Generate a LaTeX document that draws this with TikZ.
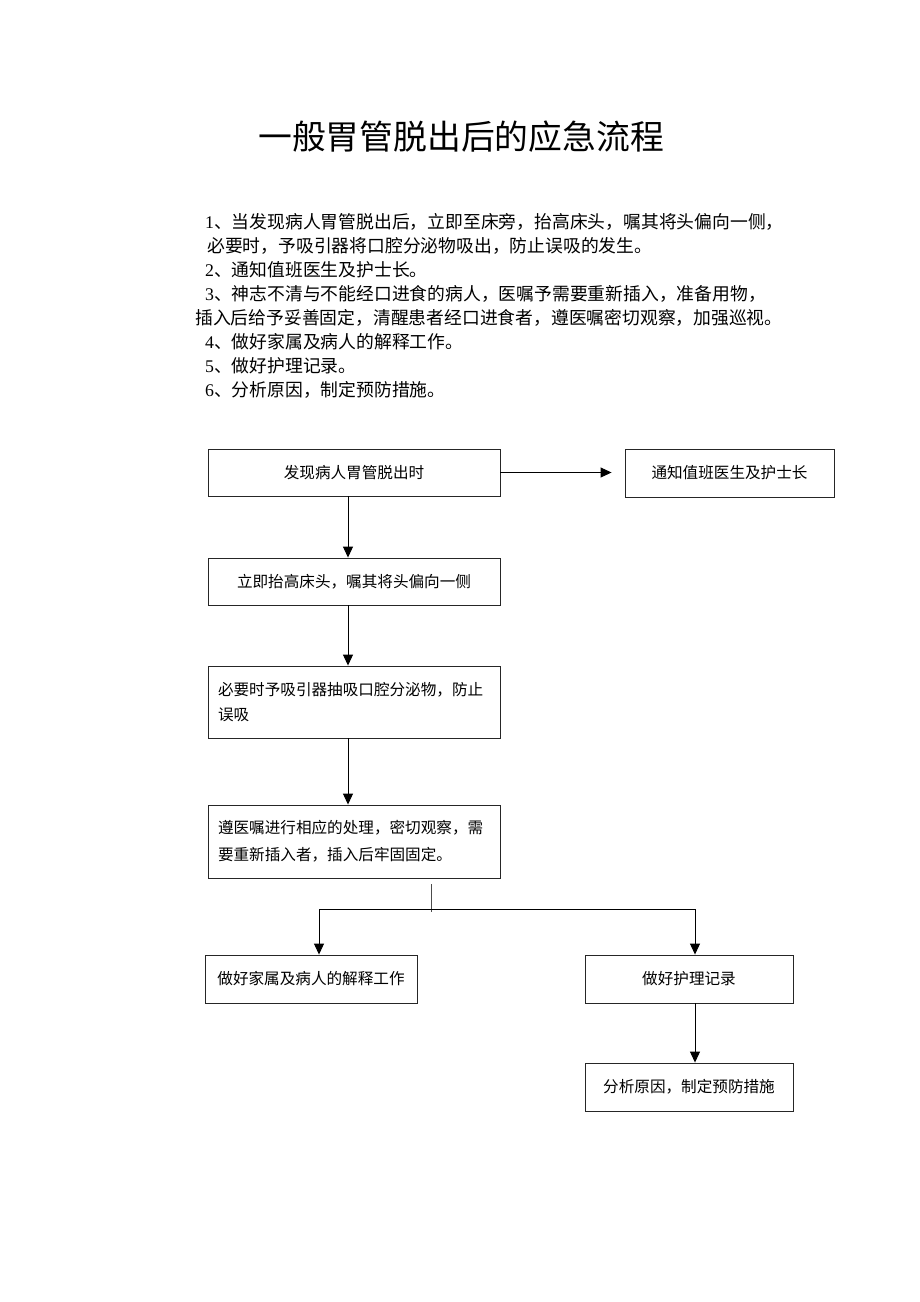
\documentclass[tikz,border=0pt]{standalone}
\usepackage{fontspec}
\setmainfont{Liberation Serif}
\newfontfamily\cjk{Noto Sans CJK SC}
\usetikzlibrary{arrows.meta}
\newcommand{\dg}[1]{{\rmfamily #1}}
\tikzset{
  box/.style={draw=black!85, line width=0.9pt, inner sep=0pt, font=\cjk\fontsize{15.6}{25}\selectfont},
  mbox/.style={box, text width=272pt, align=left, inner xsep=10pt},
  arr/.style={line width=1pt, -{Triangle[length=11pt,width=10pt]}},
  body/.style={anchor=base west, inner sep=0pt, font=\cjk\fontsize{17.8}{20}\selectfont}
}
\begin{document}
\begin{tikzpicture}[x=1pt,y=-1pt]
\useasboundingbox (0,0) rectangle (920,1302);
\fill[white] (0,0) rectangle (920,1302);
\node[inner sep=0pt, font=\cjk\fontsize{33.8}{36}\selectfont] (title) at (461,137) {一般胃管脱出后的应急流程};

\node[body] (l1) at (205,228) {\dg{1}、当发现病人胃管脱出后，立即至床旁，抬高床头，嘱其将头偏向一侧，};
\node[body] (l2) at (207,252) {必要时，予吸引器将口腔分泌物吸出，防止误吸的发生。};
\node[body] (l3) at (205,276) {\dg{2}、通知值班医生及护士长。};
\node[body] (l4) at (205,300) {\dg{3}、神志不清与不能经口进食的病人，医嘱予需要重新插入，准备用物，};
\node[body] (l5) at (195,324) {插入后给予妥善固定，清醒患者经口进食者，遵医嘱密切观察，加强巡视。};
\node[body] (l6) at (205,348) {\dg{4}、做好家属及病人的解释工作。};
\node[body] (l7) at (205,372) {\dg{5}、做好护理记录。};
\node[body] (l8) at (205,396) {\dg{6}、分析原因，制定预防措施。};

\node[box, minimum width=292pt, minimum height=47pt] (b1) at (354,472.5) {发现病人胃管脱出时};
\node[box, minimum width=209pt, minimum height=48pt] (b2) at (729.5,473) {通知值班医生及护士长};
\node[box, minimum width=292pt, minimum height=47pt] (b3) at (354,581.5) {立即抬高床头，嘱其将头偏向一侧};
\node[mbox, minimum height=72pt] (b4) at (354,702) {必要时予吸引器抽吸口腔分泌物，防止\\误吸};
\node[mbox, minimum height=73pt, font=\cjk\fontsize{15.6}{27}\selectfont] (b5) at (354,841.5) {遵医嘱进行相应的处理，密切观察，需\\要重新插入者，插入后牢固固定。};
\node[box, minimum width=212pt, minimum height=48pt] (b6) at (311,979) {做好家属及病人的解释工作};
\node[box, minimum width=208pt, minimum height=48pt] (b7) at (689,979) {做好护理记录};
\node[box, minimum width=208pt, minimum height=48pt] (b8) at (689,1087) {分析原因，制定预防措施};

\draw[arr] (b1.east) -- ([xshift=-13pt]b2.west |- b1.east);
\draw[arr] ([xshift=-6pt]b1.south) -- ([xshift=-6pt]b3.north);
\draw[arr] ([xshift=-6pt]b3.south) -- ([xshift=-6pt]b4.north);
\draw[arr] ([xshift=-6pt]b4.south) -- ([xshift=-6pt]b5.north);
\coordinate (st) at (431,884);
\coordinate (j) at (431,909);
\draw[line width=0.9pt, black!70] (st) -- ([yshift=-3pt]j);
\draw[arr] (j) -| ([xshift=8pt]b6.north);
\draw[arr] (j) -| ([xshift=6pt]b7.north);
\draw[arr] ([xshift=6pt]b7.south) -- ([xshift=6pt]b8.north);
\end{tikzpicture}
\end{document}
